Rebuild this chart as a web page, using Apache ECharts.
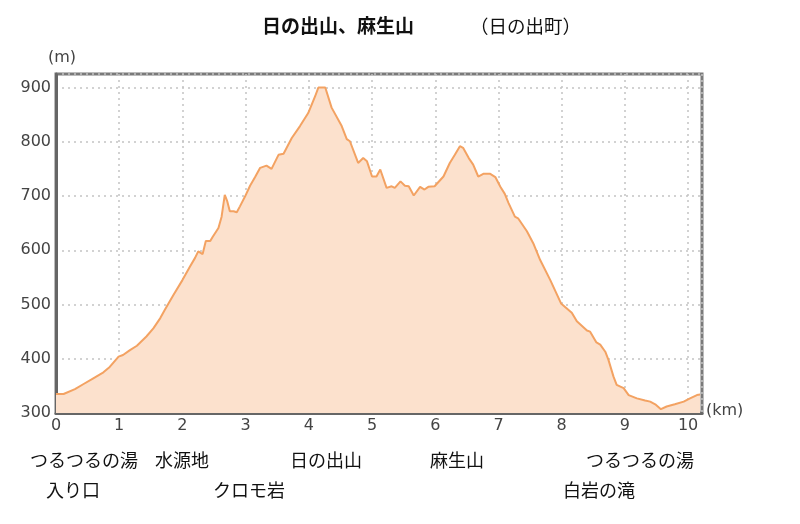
<!DOCTYPE html>
<html>
<head>
<meta charset="utf-8">
<script src="https://cdn.jsdelivr.net/npm/echarts@6/dist/echarts.min.js"></script>
<style>html,body{margin:0;padding:0;background:#fff;}#c{width:800px;height:524px;}</style>
</head>
<body>
<div id="c"></div>
<script>
const distKm = [0, 0.12, 0.3, 0.43, 0.59, 0.75, 0.85, 0.99, 1.06, 1.17, 1.28, 1.43, 1.54, 1.65, 1.72, 1.86, 2.0, 2.12, 2.2, 2.25, 2.28, 2.32, 2.37, 2.44, 2.48, 2.57, 2.62, 2.67, 2.71, 2.75, 2.81, 2.86, 2.91, 2.99, 3.07, 3.15, 3.23, 3.33, 3.36, 3.41, 3.52, 3.6, 3.73, 3.86, 3.99, 4.1, 4.15, 4.26, 4.36, 4.52, 4.6, 4.65, 4.78, 4.86, 4.92, 5.0, 5.07, 5.13, 5.23, 5.31, 5.36, 5.45, 5.52, 5.58, 5.66, 5.76, 5.83, 5.89, 5.99, 6.13, 6.23, 6.31, 6.39, 6.44, 6.53, 6.6, 6.68, 6.76, 6.87, 6.95, 7.03, 7.1, 7.16, 7.26, 7.31, 7.45, 7.55, 7.66, 7.82, 7.99, 8.16, 8.24, 8.4, 8.45, 8.55, 8.61, 8.69, 8.74, 8.82, 8.87, 8.98, 9.06, 9.19, 9.32, 9.4, 9.48, 9.57, 9.66, 9.79, 9.93, 10.03, 10.14, 10.19];
const elevM = [335, 335, 344, 353, 364, 375, 385, 404, 407, 416, 424, 441, 456, 475, 490, 518, 545, 570, 586, 598, 601, 593, 617, 617, 625, 641, 662, 702, 690, 672, 672, 670, 681, 699, 719, 735, 752, 756, 758, 750, 776, 778, 807, 829, 853, 884, 900, 900, 863, 829, 805, 801, 761, 770, 764, 736, 736, 749, 715, 718, 715, 727, 719, 718, 701, 717, 712, 717, 718, 736, 761, 776, 792, 789, 770, 758, 736, 741, 741, 735, 717, 704, 687, 662, 659, 635, 613, 582, 545, 502, 485, 469, 452, 450, 430, 426, 413, 398, 367, 352, 346, 333, 327, 323, 321, 316, 307, 312, 316, 321, 327, 333, 334];
const titleMain = '日の出山、麻生山';
const titleSub = '（日の出町）';
const yName = '(m)';
const xName = '(km)';
const placesRow1 = ['つるつるの湯', '水源地', '日の出山', '麻生山', 'つるつるの湯'];
const placesRow2 = ['入り口', 'クロモ岩', '白岩の滝'];

const row1X = [30, 155, 290, 430, 586];
const row2X = [46, 213, 563];

const chart = echarts.init(document.getElementById('c'));
const pts = distKm.map((d, i) => [d, elevM[i]]);
const graphics = [];
placesRow1.forEach((t, i) => graphics.push({type:'text', left: row1X[i], top: 451, style:{text:t, font:'18px "Noto Sans CJK JP"', fill:'#111'}}));
placesRow2.forEach((t, i) => graphics.push({type:'text', left: row2X[i], top: 481, style:{text:t, font:'18px "Noto Sans CJK JP"', fill:'#111'}}));

chart.setOption({
  animation: false,
  backgroundColor: '#fff',
  title: [
    {text: titleMain, left: 257, top: 11, textStyle:{fontFamily:'Noto Sans CJK JP', fontWeight:'bold', fontSize:19, color:'#111'}},
    {text: titleSub, left: 465, top: 12, textStyle:{fontFamily:'Noto Sans CJK JP', fontWeight:'normal', fontSize:18.5, color:'#111'}}
  ],
  grid: {left: 56, right: 98, top: 74, bottom: 111, show: true, borderColor: '#7a7a7a', borderWidth: 3, backgroundColor: 'transparent'},
  xAxis: {
    type: 'value', min: 0, max: 10.22, interval: 1,
    name: xName, nameLocation: 'end', nameGap: 4,
    nameTextStyle: {fontFamily:'DejaVu Sans', fontSize: 16, color:'#444', verticalAlign:'bottom', padding:[0,0,-6,0]},
    axisLine: {show: true, lineStyle: {color:'#666', width: 3}},
    axisTick: {show: false},
    axisLabel: {showMaxLabel: false, fontFamily:'DejaVu Sans', fontSize: 16, color:'#444', margin: 5,
      formatter: v => (Math.abs(v - Math.round(v)) < 1e-6 ? String(Math.round(v)) : '')},
    splitLine: {show: true, lineStyle: {color:'#c4c4c4', width: 1.5, type: [2, 4]}}
  },
  yAxis: {
    type: 'value', min: 300, max: 925, interval: 100,
    name: yName, nameLocation: 'end', nameGap: 8,
    nameTextStyle: {fontFamily:'DejaVu Sans', fontSize: 16, color:'#444', align:'left', padding:[0,0,0,-8]},
    axisLine: {show: true, lineStyle: {color:'#666', width: 3}},
    axisTick: {show: false},
    axisLabel: {showMaxLabel: false, fontFamily:'DejaVu Sans', fontSize: 16, color:'#444', margin: 5,
      formatter: v => (v % 100 === 0 ? String(v) : '')},
    splitLine: {show: true, lineStyle: {color:'#c4c4c4', width: 1.5, type: [2, 4]}}
  },
  series: [{
    type: 'line', data: pts, symbol: 'none', smooth: false,
    lineStyle: {color: '#f3a262', width: 2},
    areaStyle: {color: '#fce1cd', opacity: 1},
    z: 1
  }],
  graphic: graphics
});
</script>
</body>
</html>
